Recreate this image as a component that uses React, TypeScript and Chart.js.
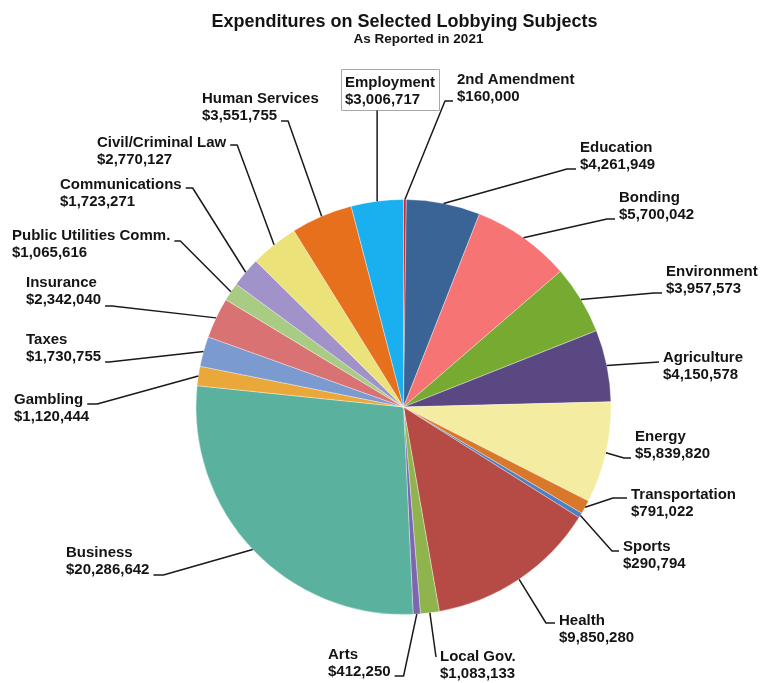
import React, { useEffect, useRef } from "react";
import { Chart, registerables } from "chart.js";

Chart.register(...registerables);

const chartTitle = "Expenditures on Selected Lobbying Subjects";
const chartSubtitle = "As Reported in 2021";

const categories = [
  "2nd Amendment",
  "Education",
  "Bonding",
  "Environment",
  "Agriculture",
  "Energy",
  "Transportation",
  "Sports",
  "Health",
  "Local Gov.",
  "Arts",
  "Business",
  "Gambling",
  "Taxes",
  "Insurance",
  "Public Utilities Comm.",
  "Communications",
  "Civil/Criminal Law",
  "Human Services",
  "Employment",
];

const amounts = [
  160000, 4261949, 5700042, 3957573, 4150578, 5839820, 791022, 290794,
  9850280, 1083133, 412250, 20286642, 1120444, 1730755, 2342040, 1065616,
  1723271, 2770127, 3551755, 3006717,
];

const sliceColors = [
  "#d9262b", "#3b6496", "#f77474", "#77aa30", "#5a4882", "#f4eca0",
  "#d9782a", "#4d7fc4", "#b64a45", "#8fb44e", "#7d65b0", "#5ab29e",
  "#eaa73a", "#7b9bd0", "#d97272", "#a8cc84", "#a193c9", "#ebe27a",
  "#e6701c", "#1ab0f0",
];

// label layout (text anchor = left x / baseline of first line)
const labelLayout: any[] = [
  { x: 457, y: 84, side: "R", row: 1, tail: 8 },
  { x: 580, y: 152, side: "R", row: 1, tail: 9 },
  { x: 619, y: 202, side: "R", row: 1, tail: 8 },
  { x: 666, y: 276, side: "R", row: 1, tail: 8 },
  { x: 663, y: 362, side: "R", row: 0, tail: 0 },
  { x: 635, y: 441, side: "R", row: 1, tail: 7 },
  { x: 631, y: 499, side: "R", row: 0, tail: 14, dy: -1 },
  { x: 623, y: 551, side: "R", row: 0, tail: 7 },
  { x: 559, y: 625, side: "R", row: 0, tail: 9, dy: -2 },
  { x: 440, y: 661, side: "R", row: 0, tail: 0, dy: -4 },
  { x: 328, y: 659, side: "L", row: 1, tail: 9 },
  { x: 66, y: 557, side: "L", row: 1, tail: 10, dy: 1 },
  { x: 14, y: 404, side: "L", row: 0, tail: 10 },
  { x: 26, y: 344, side: "L", row: 1, tail: 4, dy: 1 },
  { x: 26, y: 287, side: "L", row: 1, tail: 7, dy: 2 },
  { x: 12, y: 240, side: "L", row: 0, tail: 6, dy: 1 },
  { x: 60, y: 189, side: "L", row: 0, tail: 7, dy: -1 },
  { x: 97, y: 147, side: "L", row: 0, tail: 7, dy: -2 },
  { x: 202, y: 103, side: "L", row: 1, tail: 7, dy: 1 },
  { x: 345, y: 87, box: true },
];

const FONT = '"Liberation Sans", Arial, Helvetica, sans-serif';
const LINE_H = 17;
const TEXT_COLOR = "#141414";

function money(v: number) {
  return "$" + v.toLocaleString("en-US");
}

const leaderLabelPlugin = {
  id: "leaderLabels",
  afterDraw(chart: any) {
    const ctx = chart.ctx as CanvasRenderingContext2D;
    const meta = chart.getDatasetMeta(0);
    ctx.save();
    ctx.fillStyle = TEXT_COLOR;
    ctx.textBaseline = "alphabetic";
    ctx.textAlign = "center";
    ctx.font = `bold 18px ${FONT}`;
    ctx.fillText(chartTitle, 404.5, 27);
    ctx.font = `bold 13.5px ${FONT}`;
    ctx.fillText(chartSubtitle, 418.5, 42.5);

    ctx.textAlign = "left";
    ctx.font = `bold 15px ${FONT}`;
    ctx.strokeStyle = "#1a1a1a";
    ctx.lineWidth = 1.5;
    ctx.lineJoin = "round";

    meta.data.forEach((arc: any, i: number) => {
      const p = arc.getProps(["x", "y", "startAngle", "endAngle", "outerRadius"], true);
      const mid = (p.startAngle + p.endAngle) / 2;
      const sx = p.x + Math.cos(mid) * p.outerRadius;
      const sy = p.y + Math.sin(mid) * p.outerRadius;
      const L = labelLayout[i];
      const lines = [categories[i], money(amounts[i])];

      if (L.box) {
        const w = Math.max(ctx.measureText(lines[0]).width, ctx.measureText(lines[1]).width);
        const bx = L.x - 3.5;
        const by = L.y - 17.5;
        const bw = w + 8;
        const bh = 41;
        ctx.fillStyle = "#ffffff";
        ctx.fillRect(bx, by, bw, bh);
        ctx.strokeStyle = "#a8a8a8";
        ctx.lineWidth = 1;
        ctx.strokeRect(bx, by, bw, bh);
        ctx.strokeStyle = "#1a1a1a";
        ctx.lineWidth = 1.5;
        ctx.beginPath();
        ctx.moveTo(sx, sy);
        ctx.lineTo(sx, by + bh);
        ctx.stroke();
      } else {
        const cy = L.y + L.row * LINE_H + (L.dy || 0);
        let endX: number, elbowX: number;
        if (L.side === "R") {
          endX = L.x - 4;
          elbowX = endX - L.tail;
        } else {
          endX = L.x + ctx.measureText(lines[L.row]).width + 4;
          elbowX = endX + L.tail;
        }
        ctx.beginPath();
        ctx.moveTo(sx, sy);
        ctx.lineTo(elbowX, cy);
        ctx.lineTo(endX, cy);
        ctx.stroke();
      }
      ctx.fillStyle = TEXT_COLOR;
      ctx.fillText(lines[0], L.x, L.y);
      ctx.fillText(lines[1], L.x, L.y + LINE_H);
    });
    ctx.restore();
  },
};

export default function App() {
  const ref = useRef<HTMLCanvasElement | null>(null);
  useEffect(() => {
    if (!ref.current) return;
    const chart = new Chart(ref.current, {
      type: "pie",
      data: {
        labels: categories,
        datasets: [
          {
            data: amounts,
            backgroundColor: sliceColors,
            borderColor: "rgba(255,255,255,0.35)",
            borderWidth: 1,
          },
        ],
      },
      options: {
        responsive: false,
        animation: false,
        layout: { padding: { left: 195.5, right: 149.5, top: 199, bottom: 68 } },
        plugins: {
          legend: { display: false },
          tooltip: { enabled: false },
          title: { display: false },
        },
      },
      plugins: [leaderLabelPlugin],
    });
    return () => chart.destroy();
  }, []);
  return (
    <div style={{ position: "absolute", left: 0, top: 0, width: 761, height: 683, background: "#fff" }}>
      <canvas ref={ref} width={761} height={683} style={{ position: "absolute", left: 0, top: 0 }} />
    </div>
  );
}
